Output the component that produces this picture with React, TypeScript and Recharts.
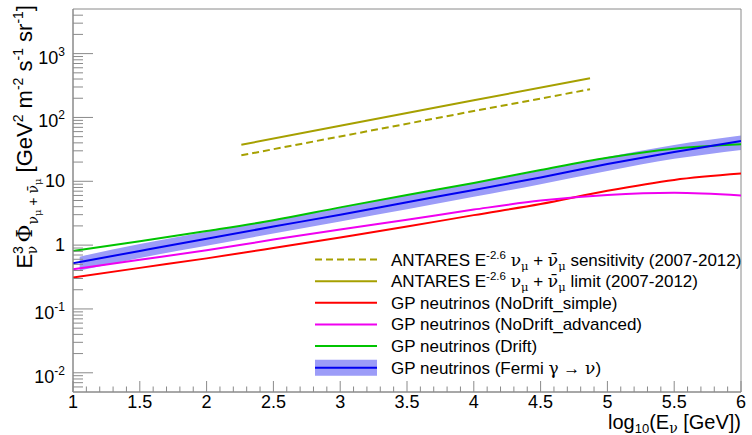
import React from 'react';
import {
    ComposedChart,
    Line,
    Area,
    XAxis,
    YAxis,
    ReferenceArea,
} from 'recharts';

// energy grid (log10 E) for the GP model curves
const xModel = [1, 1.5, 2, 2.5, 3, 3.5, 4, 4.5, 5, 5.5, 6];
const noDriftSimple = [0.31, 0.44, 0.62, 0.9, 1.32, 1.95, 2.95, 4.4, 7.1, 10.5, 13.2];
const noDriftAdvanced = [0.42, 0.59, 0.83, 1.22, 1.76, 2.5, 3.6, 5.0, 6.1, 6.6, 6.0];
const drift = [0.81, 1.15, 1.66, 2.45, 3.9, 6.1, 9.4, 15.0, 23.4, 32.4, 38];
const fermi = [0.52, 0.81, 1.26, 1.95, 3.0, 4.7, 7.3, 11.5, 18.6, 28.8, 42.6];

// Fermi gamma -> nu uncertainty band
const xBand = [1.05, 1.5, 2, 2.5, 3, 3.5, 4, 4.5, 5, 5.5, 6];
const fermiLow = [0.4, 0.63, 0.98, 1.52, 2.35, 3.65, 5.7, 9.0, 14.5, 22.5, 31];
const fermiHigh = [0.66, 1.04, 1.62, 2.5, 3.85, 6.05, 9.4, 14.8, 24, 37, 52];

// ANTARES E^-2.6 results
const xAntares = [2.26, 3, 4, 4.87];
const antaresLimit = [37.4, 74, 186, 411];
const antaresSensitivity = [25.5, 50.4, 126, 276];

// axes
const xMajorTicks = [1, 1.5, 2, 2.5, 3, 3.5, 4, 4.5, 5, 5.5, 6];
const xTickLabels = ['1', '1.5', '2', '2.5', '3', '3.5', '4', '4.5', '5', '5.5', '6'];
const yMajorTicks = [0.01, 0.1, 1, 10, 100, 1000];
const yTickBases = ['10', '10', '1', '10', '10', '10'];
const yTickExps = ['-2', '-1', '', '', '2', '3'];

const FONT = '"Liberation Sans", Arial, Helvetica, sans-serif';
const GREEK = '"DejaVu Serif", "Liberation Serif", serif';
const FRAME = '#8a8a8a';
const OLIVE = '#a6a000';
const RED = '#ff0000';
const MAGENTA = '#f000f0';
const GREEN = '#00c400';
const BLUE = '#0000f0';
const BAND = '#9c9cf8';

const PLOT_LEFT = 73;
const PLOT_BOTTOM = 392;

const toSeries = (xs: number[], ys: number[]) => xs.map((x, i) => ({ x, y: ys[i] }));

const redData = toSeries(xModel, noDriftSimple);
const magentaData = toSeries(xModel, noDriftAdvanced);
const greenData = toSeries(xModel, drift);
const blueData = toSeries(xModel, fermi);
const bandData = xBand.map((x, i) => ({ x, range: [fermiLow[i], fermiHigh[i]] }));
const limitData = toSeries(xAntares, antaresLimit);
const sensData = toSeries(xAntares, antaresSensitivity);

const xAllTicks: number[] = [];
for (let i = 10; i <= 60; i++) xAllTicks.push(i / 10);

const yAllTicks: number[] = [];
for (let e = -3; e <= 3; e++) {
    for (let m = 1; m <= 9; m++) {
        const v = m * Math.pow(10, e);
        if (v > 0.0055 && v < 4900) yAllTicks.push(Number(v.toPrecision(3)));
    }
}

const XTick = (props: any) => {
    const { x, payload } = props;
    const v = payload.value;
    const idx = xMajorTicks.findIndex((t) => Math.abs(t - v) < 1e-6);
    const major = idx >= 0;
    return (
        <g>
            <line x1={x} x2={x} y1={PLOT_BOTTOM} y2={PLOT_BOTTOM - (major ? 11 : 5.5)} stroke={FRAME} />
            {major && (
                <text x={x} y={408} textAnchor="middle" fontSize={18} fontFamily={FONT} fill="#000">
                    {xTickLabels[idx]}
                </text>
            )}
        </g>
    );
};

const YTick = (props: any) => {
    const { y, payload } = props;
    const v = payload.value;
    const idx = yMajorTicks.findIndex((t) => Math.abs(Math.log10(t) - Math.log10(v)) < 1e-6);
    const major = idx >= 0;
    const exp = major ? yTickExps[idx] : '';
    return (
        <g>
            <line x1={PLOT_LEFT} x2={PLOT_LEFT + (major ? 20 : 10)} y1={y} y2={y} stroke={FRAME} />
            {major && (
                <text
                    x={65}
                    y={y + (exp ? 10 : 6)}
                    textAnchor="end"
                    fontSize={18}
                    fontFamily={FONT}
                    fill="#000"
                >
                    {yTickBases[idx]}
                    {exp && (
                        <tspan fontSize={12} dy={-8}>
                            {exp}
                        </tspan>
                    )}
                </text>
            )}
        </g>
    );
};

type Seg = { t: string; sup?: boolean; sub?: boolean; greek?: boolean };

const antaresSegs = (tail: string): Seg[] => [
    { t: 'ANTARES E' },
    { t: '-2.6', sup: true },
    { t: ' ' },
    { t: 'ν', greek: true },
    { t: 'μ', sub: true, greek: true },
    { t: ' + ' },
    { t: 'ν\u0304', greek: true },
    { t: 'μ', sub: true, greek: true },
    { t: tail },
];

const legendLabels: Seg[][] = [
    antaresSegs(' sensitivity (2007-2012)'),
    antaresSegs(' limit (2007-2012)'),
    [{ t: 'GP neutrinos (NoDrift_simple)' }],
    [{ t: 'GP neutrinos (NoDrift_advanced)' }],
    [{ t: 'GP neutrinos (Drift)' }],
    [{ t: 'GP neutrinos (Fermi ' }, { t: 'γ', greek: true }, { t: ' → ' }, { t: 'ν', greek: true }, { t: ')' }],
];
const legendColors = [OLIVE, OLIVE, RED, MAGENTA, GREEN, BLUE];

const renderSegs = (segs: Seg[]) => {
    let prev = 0;
    return segs.map((s, i) => {
        const off = s.sup ? -7 : s.sub ? 4 : 0;
        const dy = off - prev;
        prev = off;
        return (
            <tspan
                key={i}
                dy={dy}
                fontSize={s.sup || s.sub ? 11.5 : 17}
                fontFamily={s.greek ? GREEK : FONT}
            >
                {s.t}
            </tspan>
        );
    });
};

const Overlay = () => (
    <svg
        width={752}
        height={435}
        style={{ position: 'absolute', left: 0, top: 0, pointerEvents: 'none' }}
    >
        {legendLabels.map((segs, i) => {
            const cy = 259.5 + i * 21.65;
            const last = i === legendLabels.length - 1;
            return (
                <g key={i}>
                    {last && <rect x={315} y={cy - 8} width={62} height={16} fill={BAND} />}
                    <line
                        x1={315}
                        x2={377}
                        y1={cy}
                        y2={cy}
                        stroke={legendColors[i]}
                        strokeWidth={2}
                        strokeDasharray={i === 0 ? '7 4' : undefined}
                    />
                    <text x={391} y={cy + 6} fill="#000">
                        {renderSegs(segs)}
                    </text>
                </g>
            );
        })}

        <text x={741} y={429} textAnchor="end" fontSize={20} fontFamily={FONT} fill="#000">
            log
            <tspan fontSize={13} dy={4}>10</tspan>
            <tspan dy={-4}>(E</tspan>
            <tspan fontSize={14} dy={4} fontFamily={GREEK}>ν</tspan>
            <tspan dy={-4}> [GeV])</tspan>
        </text>

        <text
            transform="rotate(-90)"
            x={-5}
            y={32}
            textAnchor="end"
            fontSize={22}
            fontFamily={FONT}
            fill="#000"
        >
            E
            <tspan fontSize={14} dy={-9}>3</tspan>
            <tspan fontSize={14} dx={-8} dy={14} fontFamily={GREEK}>ν</tspan>
            <tspan dx={3} dy={-5} fontFamily={GREEK}>Φ</tspan>
            <tspan fontSize={14} dy={6} fontFamily={GREEK}>ν</tspan>
            <tspan fontSize={10} dy={3} fontFamily={GREEK}>μ</tspan>
            <tspan fontSize={14} dy={-3}> + </tspan>
            <tspan fontSize={14} fontFamily={GREEK}>ν̄</tspan>
            <tspan fontSize={10} dy={3} fontFamily={GREEK}>μ</tspan>
            <tspan dy={-9}> [GeV</tspan>
            <tspan fontSize={14} dy={-9}>2</tspan>
            <tspan dy={9}> m</tspan>
            <tspan fontSize={14} dy={-9}>-2</tspan>
            <tspan dy={9}> s</tspan>
            <tspan fontSize={14} dy={-9}>-1</tspan>
            <tspan dy={9}> sr</tspan>
            <tspan fontSize={14} dy={-9}>-1</tspan>
            <tspan dy={9}>]</tspan>
        </text>
    </svg>
);

export default function App() {
    return (
        <div
            style={{
                position: 'absolute',
                left: 0,
                top: 0,
                width: 752,
                height: 435,
                background: '#fff',
                fontFamily: FONT,
            }}
        >
            <ComposedChart width={752} height={435} margin={{ top: 9, right: 11, left: 0, bottom: 0 }}>
                <XAxis
                    type="number"
                    dataKey="x"
                    domain={[1, 6]}
                    ticks={xAllTicks}
                    interval={0}
                    height={43}
                    axisLine={{ stroke: FRAME }}
                    tickLine={false}
                    tick={<XTick />}
                    allowDataOverflow
                />
                <YAxis
                    type="number"
                    scale="log"
                    domain={[0.005, 5000]}
                    ticks={yAllTicks}
                    interval={0}
                    width={73}
                    axisLine={{ stroke: FRAME }}
                    tickLine={false}
                    tick={<YTick />}
                    allowDataOverflow
                />
                <Area
                    data={bandData}
                    dataKey="range"
                    type="monotone"
                    stroke="none"
                    fill={BAND}
                    fillOpacity={1}
                    isAnimationActive={false}
                />
                <Line
                    data={sensData}
                    dataKey="y"
                    type="linear"
                    stroke={OLIVE}
                    strokeWidth={2}
                    strokeDasharray="7 4"
                    dot={false}
                    isAnimationActive={false}
                />
                <Line
                    data={limitData}
                    dataKey="y"
                    type="linear"
                    stroke={OLIVE}
                    strokeWidth={2}
                    dot={false}
                    isAnimationActive={false}
                />
                <Line
                    data={redData}
                    dataKey="y"
                    type="monotone"
                    stroke={RED}
                    strokeWidth={2}
                    dot={false}
                    isAnimationActive={false}
                />
                <Line
                    data={magentaData}
                    dataKey="y"
                    type="monotone"
                    stroke={MAGENTA}
                    strokeWidth={2}
                    dot={false}
                    isAnimationActive={false}
                />
                <Line
                    data={greenData}
                    dataKey="y"
                    type="monotone"
                    stroke={GREEN}
                    strokeWidth={2}
                    dot={false}
                    isAnimationActive={false}
                />
                <Line
                    data={blueData}
                    dataKey="y"
                    type="monotone"
                    stroke={BLUE}
                    strokeWidth={2}
                    dot={false}
                    isAnimationActive={false}
                />
                <ReferenceArea
                    x1={1}
                    x2={6}
                    y1={0.005}
                    y2={5000}
                    fill="none"
                    stroke={FRAME}
                    strokeWidth={1}
                />
            </ComposedChart>
            <Overlay />
        </div>
    );
}
